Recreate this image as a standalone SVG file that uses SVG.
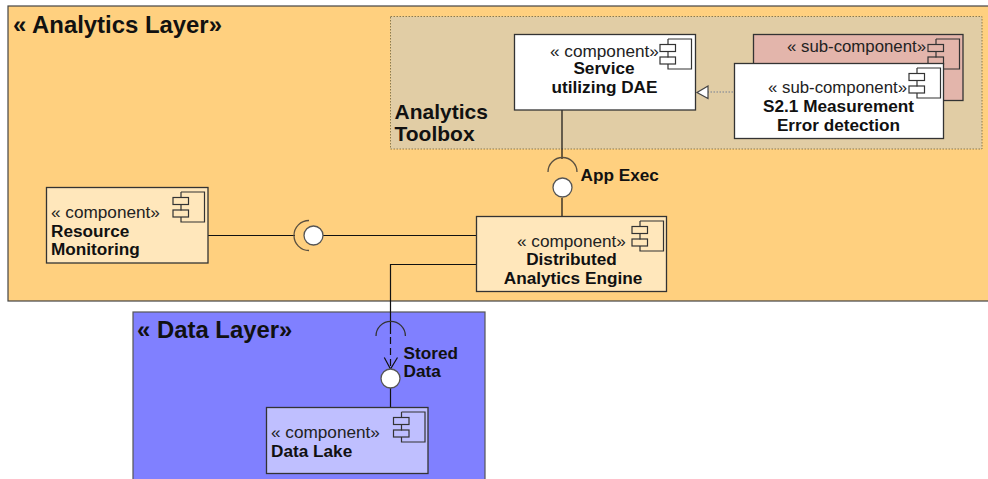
<svg xmlns="http://www.w3.org/2000/svg" width="988" height="479" viewBox="0 0 988 479">
<style>
text{font-family:"Liberation Sans",Arial,sans-serif;fill:#111}
.s{font-size:17.200px;fill:#222}
.u{font-size:16.800px;fill:#222}
.b{font-size:17.200px;font-weight:bold}
.t{font-size:21px;font-weight:bold}
.h{font-size:23.900px;font-weight:bold}
.m{text-anchor:middle}
.box{stroke:#333;stroke-width:1.3}
.ico{fill:none;stroke:#333;stroke-width:1.2}
.w{stroke:#111;stroke-width:1.2;fill:none}
.arc{stroke:#5a5040;stroke-width:1.3;fill:none}
.ball{fill:#fff;stroke:#555;stroke-width:1.3}
</style>
<defs>
<g id="icon">
<path class="ico" d="M8 0H31.500V30H8V25M8 5V0M8 12.500V18.500"/>
<rect class="ico" x="0" y="5.500" width="15.500" height="7"/>
<rect class="ico" x="0" y="18" width="15.500" height="7"/>
</g>
</defs>
<g id="analytics-layer">
<rect x="8" y="6" width="990" height="295" fill="#ffd07f" stroke="#444" stroke-width="1.200"/>
<text class="h" x="13" y="33">« Analytics Layer»</text>
</g>
<g id="analytics-toolbox">
<rect x="390.500" y="16.500" width="591.500" height="132.500" fill="#e1cda5" stroke="#8a7a50" stroke-width="1" stroke-dasharray="1.500 1.500"/>
<text class="t" x="394.500" y="119">Analytics</text>
<text class="t" x="394.500" y="141">Toolbox</text>
</g>
<g id="data-layer">
<rect x="133" y="312" width="352" height="180" fill="#8080ff" stroke="#555" stroke-width="1.200"/>
<text class="h" x="137" y="338">« Data Layer»</text>
</g>
<g id="connectors">
<path class="w" d="M562 110V159M562 198V216.500"/>
<path class="arc" d="M548 172A14.500 14.500 0 0 1 577 172"/>
<path class="w" d="M208 235.500H295M323 235.500H476"/>
<path class="arc" d="M309 220.500A15 15 0 0 0 309 250.500"/>
<path class="w" d="M476 264.500H390.500V334"/>
<path class="w" d="M390.500 337V368" stroke-width="1" stroke-dasharray="7 4"/>
<path class="w" d="M384.300 357.500L390.500 369L397.500 357.500" stroke-width="1"/>
<path class="arc" d="M376 336A14.700 14.700 0 0 1 405.400 336" style="stroke:#333"/>
<path class="w" d="M390.500 388V407"/>
<path d="M733 92H708" fill="none" stroke="#999" stroke-width="1.300" stroke-dasharray="1.500 1.500"/>
<path d="M708 86L697 92.500L708 98.500Z" fill="#fff" stroke="#444" stroke-width="1.200"/>
</g>
<g id="iface-app-exec">
<circle class="ball" cx="562.500" cy="187.500" r="9.500"/>
<text class="b" x="580.500" y="181">App Exec</text>
</g>
<g id="iface-resource">
<circle class="ball" cx="313.500" cy="235.500" r="9.500"/>
</g>
<g id="iface-stored-data">
<circle class="ball" cx="390.500" cy="378.500" r="9.500"/>
<text class="b" x="403.500" y="359">Stored</text>
<text class="b" x="403.500" y="377">Data</text>
</g>
<g id="service">
<rect class="box" x="514.500" y="34.500" width="181" height="75.500" fill="#fff"/>
<use href="#icon" x="660" y="39"/>
<text class="s" x="550" y="56.500">« component»</text>
<text class="b m" x="604" y="74">Service</text>
<text class="b m" x="604.500" y="93">utilizing DAE</text>
</g>
<g id="sub-component-back">
<rect class="box" x="753.500" y="34.500" width="209.500" height="66" fill="#e3b5ab"/>
<use href="#icon" x="928" y="39"/>
<text class="u" x="787" y="52">« sub-component»</text>
</g>
<g id="sub-component-front">
<rect class="box" x="734.500" y="63.500" width="209" height="75" fill="#fff"/>
<use href="#icon" x="909" y="68"/>
<text class="u" x="768" y="93">« sub-component»</text>
<text class="b m" x="838.500" y="112">S2.1 Measurement</text>
<text class="b m" x="838.500" y="131">Error detection</text>
</g>
<g id="resource-monitoring">
<rect class="box" x="46.500" y="187.500" width="161.500" height="75.500" fill="#ffe7bb"/>
<use href="#icon" x="173" y="192"/>
<text class="s" x="51" y="218">« component»</text>
<text class="b" x="51" y="237">Resource</text>
<text class="b" x="51" y="255">Monitoring</text>
</g>
<g id="dae">
<rect class="box" x="476.500" y="216.500" width="190" height="75" fill="#ffe7bb"/>
<use href="#icon" x="632" y="221"/>
<text class="s" x="517" y="247">« component»</text>
<text class="b m" x="571.500" y="265">Distributed</text>
<text class="b m" x="573" y="284">Analytics Engine</text>
</g>
<g id="data-lake">
<rect class="box" x="266.500" y="407.500" width="161.500" height="66" fill="#bfbfff"/>
<use href="#icon" x="393.500" y="412"/>
<text class="s" x="271" y="438">« component»</text>
<text class="b" x="271" y="457">Data Lake</text>
</g>
</svg>
